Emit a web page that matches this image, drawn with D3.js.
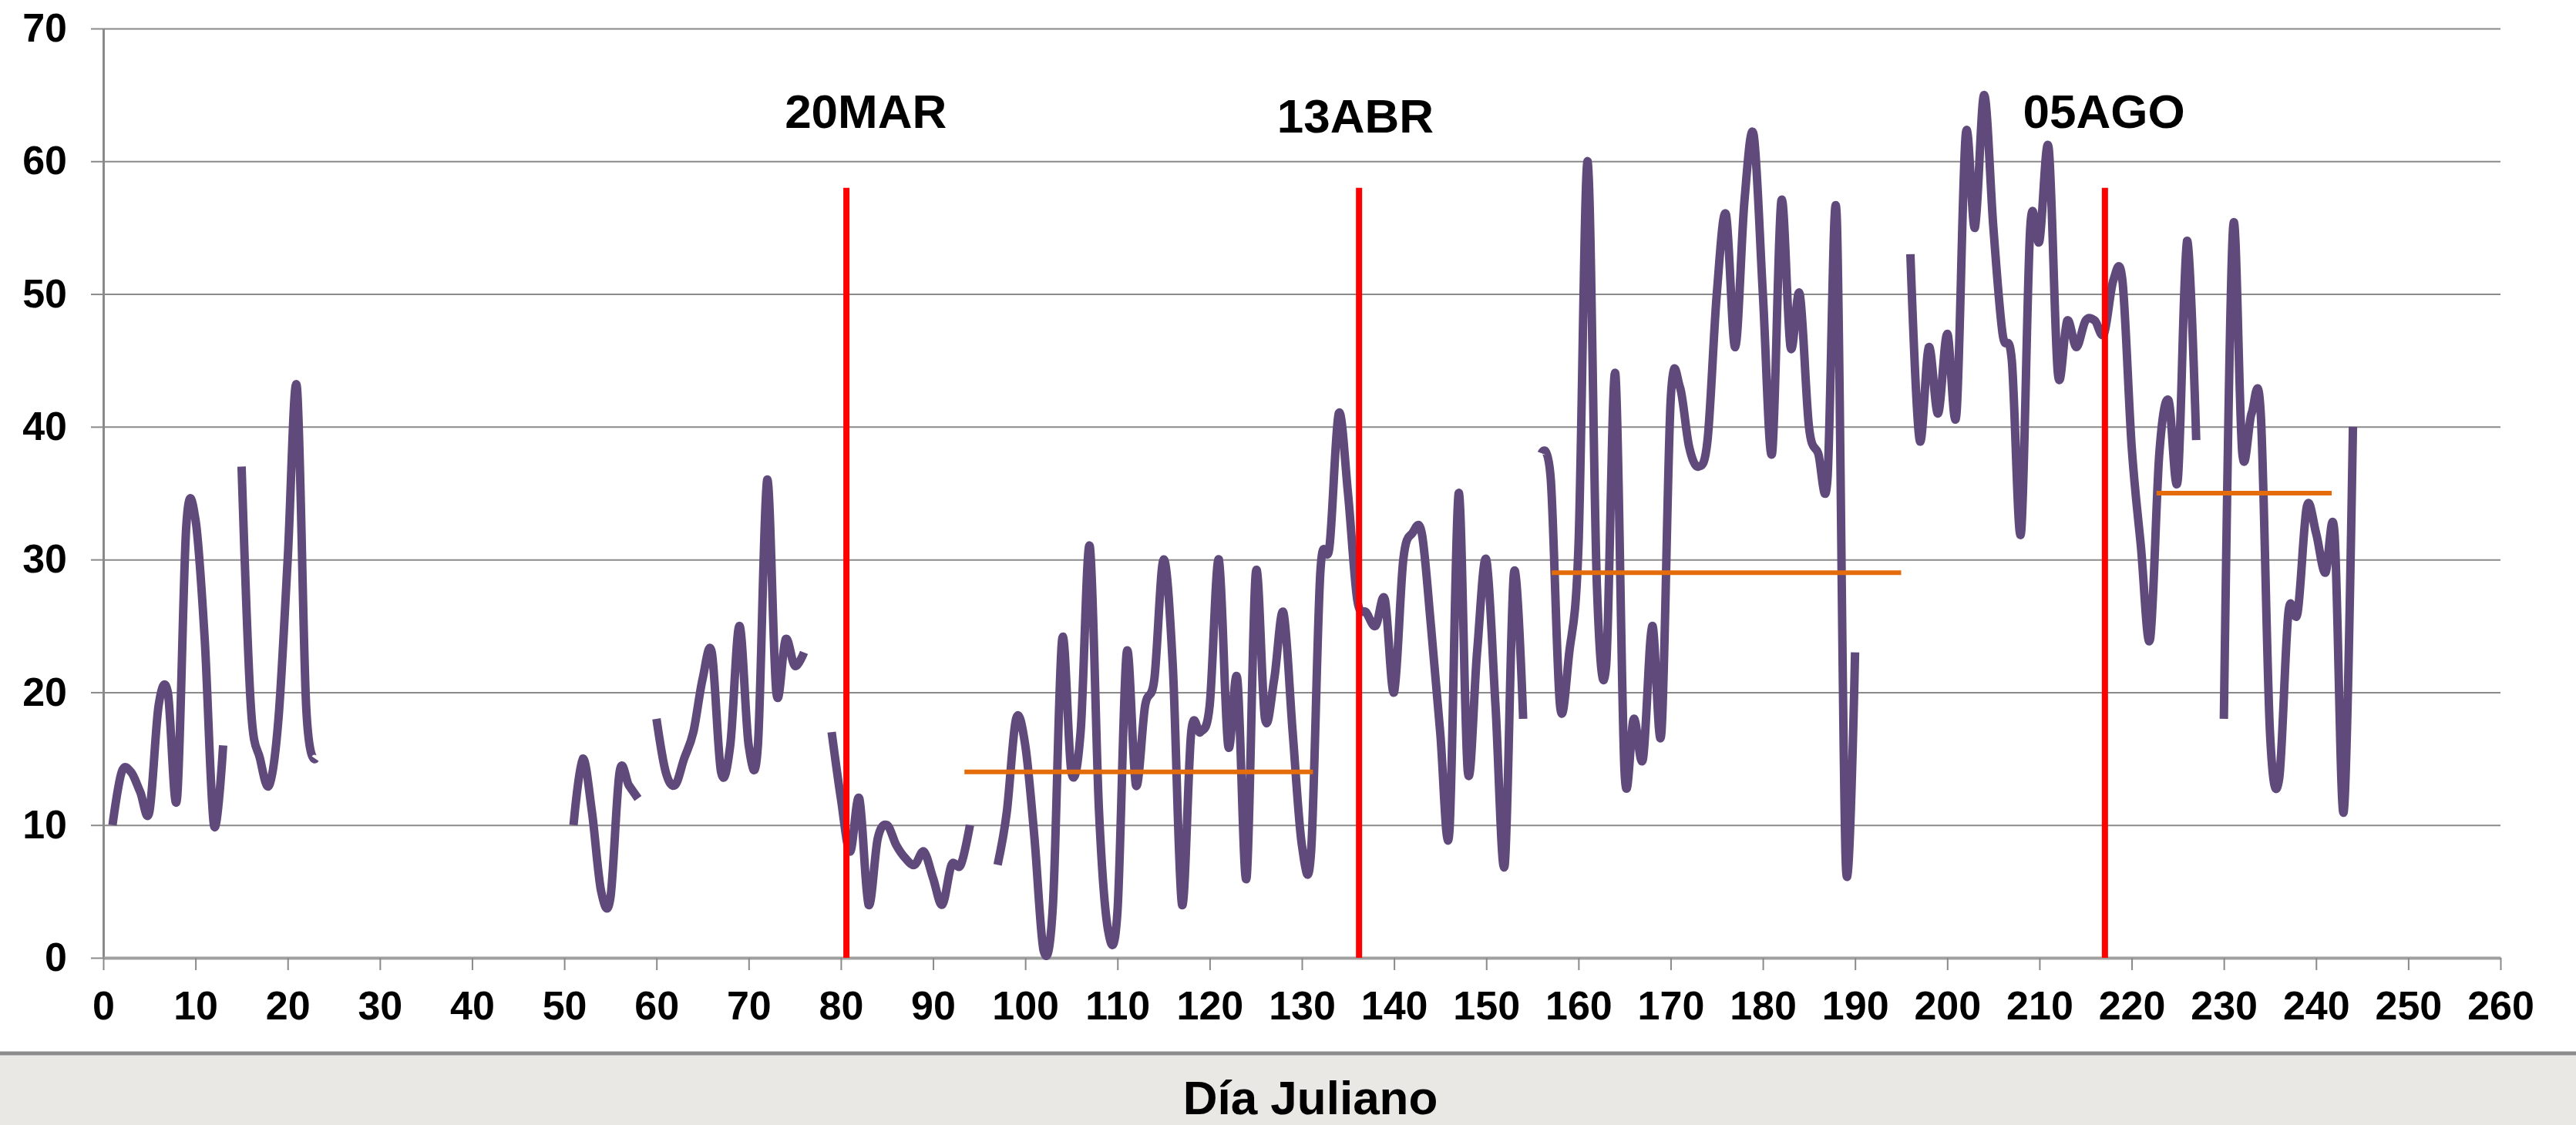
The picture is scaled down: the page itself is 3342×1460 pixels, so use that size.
<!DOCTYPE html>
<html>
<head>
<meta charset="utf-8">
<script src="https://cdn.jsdelivr.net/npm/d3@7"></script>
<style>
  body { margin: 0; background: #fff; }
  svg { display: block; font-family: "Liberation Sans", Arial, sans-serif; }
</style>
</head>
<body>
<svg id="chart"></svg>
<script>
// valores diarios (día juliano 1..244), null = sin dato
const dias = d3.range(1, 245);
const valores = [
  10, 14, 14, 12.5, 11, 19, 20, 12, 32.5, 33, 24, 10, 16, null,          // 1-14
  37, 19, 15, 13, 18, 30, 43, 19, 15,                                     // 15-23
  null, null, null, null, null, null, null, null, null, null,             // 24-33
  null, null, null, null, null, null, null, null, null, null,             // 34-43
  null, null, null, null, null, null, null,                               // 44-50
  10, 15, 11, 5, 4.5, 14, 13, 12, null,                                   // 51-59
  18, 14, 13, 15, 17, 21, 23, 14, 16, 25, 16, 16, 36, 20, 24, 22, 23,     // 60-76
  null, null,                                                             // 77-78
  17, 12, 8, 12, 4, 9, 10, 8.5, 7.5, 7, 8, 6, 4, 7, 7, 10,                // 79-94
  null, null,                                                             // 95-96
  7, 11, 18, 16, 9, 0.5, 4, 24, 14, 17, 31, 11, 2, 3.5, 23, 13, 19, 21, 30, // 97-115
  22, 4, 17, 17, 19, 30, 16, 21, 6, 29, 18, 21, 26, 17, 8.5, 8,           // 116-131
  29, 31, 41, 35, 27, 26, 25, 27, 20, 30, 32, 32, 25, 17, 9.5, 35,        // 132-147
  14, 23, 30, 19, 7, 29, 18, null,                                        // 148-155
  38, 36, 19, 23, 31, 60, 28, 22, 44, 14, 18, 15, 25, 17, 42, 43,         // 156-171
  38.5, 37, 39, 50, 56, 46, 57, 62, 50, 38, 57, 46, 50, 40, 38, 36,       // 172-187
  56, 7, 23, null, null, null, null, null,                                // 188-195
  53, 39, 46, 41, 47, 41, 62, 55, 65, 55, 47, 45, 32, 55, 54, 61,         // 196-211
  44, 48, 46, 48, 48, 47, 51, 51, 38.5, 31, 24, 38, 42, 36, 54, 39,       // 212-227
  null, null,                                                             // 228-229
  18, 55, 38, 41, 41, 17, 13.5, 26, 26, 34, 32, 29, 32, 11, 40            // 230-244
];

// fechas marcadas con línea roja
const eventosDia = [80.6, 136.2, 217.1];
const eventosTope = 58;
const etiquetas = ["20MAR", "13ABR", "05AGO"];
const etiquetasDia = [82.7, 135.8, 217];

// promedios por periodo (inicio, fin, valor)
const promInicio = [93.4, 157.1, 222.7];
const promFin = [131.2, 195, 241.7];
const promValor = [14, 29, 35];

const xTicks = d3.range(0, 261, 10);
const yTicks = d3.range(0, 71, 10);

const width = 3342, height = 1460;
const svg = d3.select("#chart").attr("width", width).attr("height", height);

const x = d3.scaleLinear().domain([0, 260]).range([134, 3244]);
const y = d3.scaleLinear().domain([0, 70]).range([1243, 37]);

// banda inferior del título del eje
svg.append("rect")
  .attr("x", 0).attr("y", 1366).attr("width", width).attr("height", height - 1366)
  .attr("fill", "#e9e8e4");
svg.append("line")
  .attr("x1", 0).attr("x2", width).attr("y1", 1367).attr("y2", 1367)
  .attr("stroke", "#8c8c8c").attr("stroke-width", 5);

// líneas de la cuadrícula
svg.append("g")
  .attr("transform", `translate(${x(0)},0)`)
  .call(d3.axisRight(y).tickValues(yTicks.slice(1)).tickSize(x(260) - x(0)).tickFormat(""))
  .call(g => g.select(".domain").remove())
  .selectAll(".tick line")
  .attr("stroke", "#8a8a8a")
  .attr("stroke-width", 2);

// eje Y
const yAxis = svg.append("g")
  .attr("transform", `translate(${x(0)},0)`)
  .call(d3.axisLeft(y).tickValues(yTicks).tickSize(16).tickPadding(31).tickSizeOuter(0));
yAxis.select(".domain").attr("stroke", "#8a8a8a").attr("stroke-width", 3);
yAxis.selectAll(".tick line").attr("stroke", "#8a8a8a").attr("stroke-width", 2);
yAxis.selectAll("text")
  .attr("fill", "#000")
  .style("font-size", "52px")
  .style("font-weight", "bold");

// eje X
const xAxis = svg.append("g")
  .attr("transform", `translate(0,${y(0)})`)
  .call(d3.axisBottom(x).tickValues(xTicks).tickSize(16).tickPadding(27).tickSizeOuter(0));
xAxis.select(".domain").attr("stroke", "#a0a0a0").attr("stroke-width", 4);
xAxis.selectAll(".tick line").attr("stroke", "#8a8a8a").attr("stroke-width", 2);
xAxis.selectAll("text")
  .attr("fill", "#000")
  .style("font-size", "52px")
  .style("font-weight", "bold");

// título del eje X
svg.append("text")
  .attr("x", 1700)
  .attr("y", 1446)
  .attr("text-anchor", "middle")
  .style("font-size", "62px")
  .style("font-weight", "bold")
  .text("Día Juliano");

// serie diaria (línea suavizada)
const serie = dias.map((d, i) => ({ dia: d, valor: valores[i] }));
const linea = d3.line()
  .defined(d => d.valor !== null)
  .x(d => x(d.dia))
  .y(d => y(d.valor))
  .curve(d3.curveCatmullRom.alpha(0));

svg.append("path")
  .datum(serie)
  .attr("fill", "none")
  .attr("stroke", "#604a7b")
  .attr("stroke-width", 11)
  .attr("stroke-linejoin", "round")
  .attr("d", linea);

// promedios (naranja)
promValor.forEach((v, i) => {
  svg.append("line")
    .attr("x1", x(promInicio[i])).attr("x2", x(promFin[i]))
    .attr("y1", y(v)).attr("y2", y(v))
    .attr("stroke", "#e46c0a")
    .attr("stroke-width", 6);
});

// líneas rojas de fechas
eventosDia.forEach((d, i) => {
  svg.append("line")
    .attr("x1", x(d)).attr("x2", x(d))
    .attr("y1", y(0)).attr("y2", y(eventosTope))
    .attr("stroke", "#ff0000")
    .attr("stroke-width", 8);

  svg.append("text")
    .attr("x", x(etiquetasDia[i]))
    .attr("y", i === 1 ? 172 : 166)
    .attr("text-anchor", "middle")
    .style("font-size", "62px")
    .style("font-weight", "bold")
    .text(etiquetas[i]);
});
</script>
</body>
</html>
